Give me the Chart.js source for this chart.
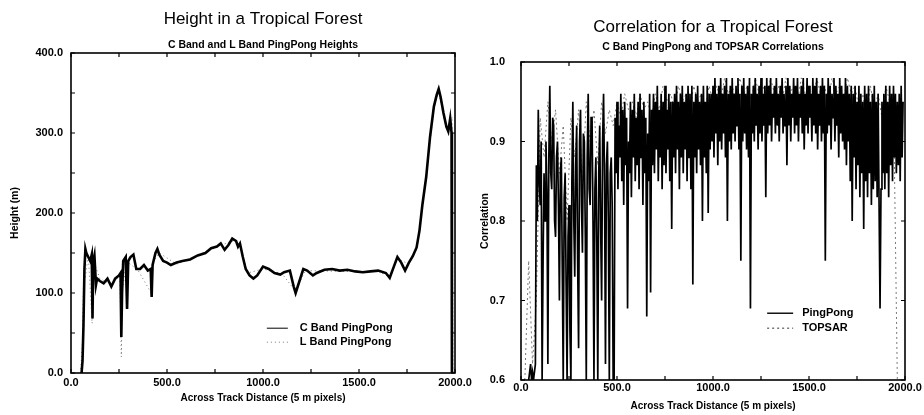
<!DOCTYPE html>
<html lang="en">
<head>
<meta charset="UTF-8">
<title>Tropical Forest Height and Correlation</title>
<script src="https://cdn.jsdelivr.net/npm/chart.js"></script>
<style>
  body { margin: 0; background: #fff; width: 924px; height: 415px; position: relative; overflow: hidden; }
  #left { position: absolute; left: 0; top: 0; width: 480px; height: 415px; }
  #right { position: absolute; left: 462px; top: 0; width: 462px; height: 415px; }
</style>
</head>
<body>
<canvas id="left" width="480" height="415"></canvas>
<canvas id="right" width="462" height="415"></canvas>
<script>
// ---- Height chart (across track distance, height in m)
const heightX = [55, 60, 65, 70, 75, 80, 90, 100, 108, 112, 116, 122, 130, 136, 150, 170, 190, 210, 230, 250, 258, 262, 266, 272, 285, 292, 298, 310, 325, 340, 360, 380, 400, 415, 420, 425, 440, 450, 460, 480, 500, 520, 550, 580, 620, 660, 700, 730, 760, 780, 800, 820, 840, 860, 870, 880, 895, 910, 930, 950, 970, 1000, 1030, 1060, 1090, 1110, 1140, 1160, 1170, 1190, 1210, 1230, 1260, 1280, 1320, 1360, 1400, 1440, 1480, 1520, 1560, 1600, 1640, 1660, 1680, 1700, 1720, 1740, 1760, 1780, 1800, 1815, 1830, 1850, 1870, 1890, 1905, 1915, 1925, 1940, 1955, 1965, 1975, 1982, 1984];
const cBandHeight = [0, 15, 60, 130, 155, 150, 145, 140, 148, 68, 140, 147, 110, 118, 115, 112, 118, 108, 118, 122, 125, 45, 100, 140, 145, 80, 140, 145, 148, 130, 130, 135, 128, 130, 95, 135, 150, 155, 148, 140, 138, 135, 138, 140, 142, 147, 150, 156, 158, 162, 154, 160, 168, 165, 158, 162, 145, 130, 122, 118, 122, 133, 130, 125, 123, 126, 128, 108, 100, 115, 130, 128, 122, 125, 129, 130, 128, 129, 127, 126, 127, 128, 125, 119, 132, 145, 138, 128, 138, 146, 157, 178, 210, 245, 295, 333, 348, 355, 345, 325, 308, 302, 318, 300, 0];
const lBandX = [50, 60, 65, 75, 90, 110, 118, 150, 200, 255, 262, 268, 290, 350, 418, 430, 460, 550, 650, 750, 840, 880, 920, 1000, 1100, 1170, 1220, 1400, 1600, 1660, 1700, 1760, 1800, 1830, 1860, 1890, 1915, 1950, 1970, 1985, 1990];
const lBandHeight = [0, 40, 110, 120, 148, 62, 140, 118, 112, 120, 20, 105, 140, 128, 100, 140, 150, 136, 146, 157, 165, 160, 125, 130, 124, 102, 128, 127, 127, 120, 143, 136, 155, 205, 270, 330, 352, 310, 305, 320, 0];

// ---- Correlation chart (one value every *Step pixels from *Start)
const pingPongStart = 40, pingPongStep = 5;
const pingPongCorr = [
  0.60, 0.61, 0.62, 0.60, 0.61, 0.60, 0.61, 0.62, 0.87, 0.80,
  0.94, 0.85, 0.82, 0.90, 0.60, 0.75, 0.86, 0.80, 0.90, 0.84,
  0.62, 0.88, 0.97, 0.86, 0.84, 0.93, 0.92, 0.80, 0.78, 0.88,
  0.90, 0.82, 0.70, 0.86, 0.88, 0.74, 0.60, 0.83, 0.86, 0.72,
  0.60, 0.78, 0.82, 0.66, 0.60, 0.85, 0.95, 0.80, 0.73, 0.87,
  0.92, 0.75, 0.64, 0.90, 0.94, 0.82, 0.76, 0.91, 0.90, 0.78,
  0.60, 0.88, 0.96, 0.84, 0.82, 0.93, 0.93, 0.80, 0.60, 0.84,
  0.88, 0.77, 0.60, 0.86, 0.92, 0.79, 0.70, 0.90, 0.96, 0.85,
  0.62, 0.87, 0.90, 0.80, 0.60, 0.86, 0.88, 0.82, 0.60, 0.60,
  0.93, 0.86, 0.95, 0.84, 0.92, 0.88, 0.96, 0.85, 0.94, 0.82, 0.95, 0.87, 0.93, 0.69, 0.90, 0.86, 0.95, 0.83, 0.94, 0.88,
  0.96, 0.85, 0.93, 0.87, 0.95, 0.84, 0.96, 0.88, 0.94, 0.82, 0.95, 0.86, 0.93, 0.68, 0.91, 0.85, 0.96, 0.71, 0.94, 0.87,
  0.96, 0.86, 0.95, 0.89, 0.97, 0.85, 0.94, 0.88, 0.96, 0.84, 0.95, 0.87, 0.97, 0.86, 0.94, 0.89, 0.96, 0.85, 0.95, 0.79,
  0.95, 0.88, 0.96, 0.86, 0.97, 0.89, 0.95, 0.84, 0.96, 0.88, 0.97, 0.86, 0.95, 0.89, 0.96, 0.85, 0.97, 0.88, 0.96, 0.84,
  0.97, 0.72, 0.95, 0.88, 0.96, 0.86, 0.97, 0.89, 0.95, 0.87, 0.96, 0.80, 0.97, 0.88, 0.95, 0.86, 0.97, 0.81, 0.96, 0.89,
  0.96, 0.90, 0.97, 0.88, 0.98, 0.91, 0.96, 0.87, 0.97, 0.90, 0.98, 0.89, 0.96, 0.91, 0.97, 0.88, 0.98, 0.80, 0.96, 0.90,
  0.97, 0.89, 0.98, 0.91, 0.96, 0.90, 0.97, 0.92, 0.98, 0.89, 0.96, 0.75, 0.97, 0.90, 0.98, 0.91, 0.96, 0.89, 0.97, 0.88,
  0.98, 0.69, 0.96, 0.91, 0.97, 0.90, 0.98, 0.92, 0.96, 0.89, 0.97, 0.91, 0.98, 0.90, 0.96, 0.92, 0.97, 0.83, 0.98, 0.91,
  0.97, 0.92, 0.98, 0.90, 0.96, 0.93, 0.97, 0.91, 0.98, 0.92, 0.96, 0.90, 0.97, 0.93, 0.98, 0.91, 0.96, 0.92, 0.97, 0.87,
  0.98, 0.92, 0.97, 0.90, 0.96, 0.93, 0.98, 0.91, 0.97, 0.92, 0.98, 0.90, 0.96, 0.93, 0.97, 0.91, 0.98, 0.89, 0.96, 0.92,
  0.98, 0.91, 0.97, 0.93, 0.96, 0.90, 0.98, 0.92, 0.97, 0.91, 0.98, 0.89, 0.96, 0.92, 0.97, 0.90, 0.98, 0.91, 0.97, 0.75,
  0.96, 0.91, 0.98, 0.92, 0.97, 0.89, 0.96, 0.93, 0.98, 0.90, 0.97, 0.92, 0.96, 0.88, 0.98, 0.91, 0.97, 0.90, 0.96, 0.89,
  0.98, 0.87, 0.97, 0.90, 0.96, 0.85, 0.97, 0.80, 0.96, 0.88, 0.97, 0.84, 0.95, 0.87, 0.97, 0.83, 0.96, 0.86, 0.95, 0.79,
  0.97, 0.85, 0.96, 0.83, 0.97, 0.86, 0.95, 0.82, 0.96, 0.84, 0.97, 0.85, 0.95, 0.83, 0.96, 0.82, 0.69, 0.84, 0.95, 0.86,
  0.96, 0.84, 0.97, 0.86, 0.95, 0.83, 0.97, 0.87, 0.96, 0.85, 0.97, 0.88, 0.96, 0.86, 0.95, 0.87, 0.96, 0.85, 0.97, 0.88,
  0.95
];
const topsarStart = 20, topsarStep = 20;
const topsarCorr = [
  0.60, 0.75, 0.62, 0.70, 0.93, 0.88, 0.95, 0.90, 0.94, 0.86,
  0.92, 0.80, 0.93, 0.88, 0.94, 0.85, 0.95, 0.90, 0.94, 0.87,
  0.95, 0.91, 0.94, 0.92, 0.95, 0.93, 0.96, 0.94, 0.95, 0.93,
  0.96, 0.94, 0.95, 0.93, 0.96, 0.94, 0.97, 0.95, 0.96, 0.94,
  0.97, 0.95, 0.96, 0.94, 0.97, 0.95, 0.96, 0.94, 0.97, 0.95,
  0.97, 0.95, 0.98, 0.96, 0.97, 0.95, 0.98, 0.96, 0.97, 0.95,
  0.98, 0.96, 0.97, 0.95, 0.98, 0.96, 0.97, 0.95, 0.98, 0.96,
  0.97, 0.95, 0.98, 0.96, 0.97, 0.95, 0.98, 0.96, 0.97, 0.95,
  0.98, 0.96, 0.97, 0.95, 0.98, 0.96, 0.97, 0.94, 0.96, 0.93,
  0.97, 0.94, 0.96, 0.93, 0.97, 0.95, 0.96, 0.60, 0.60
];

const FONT = '"Liberation Sans", Arial, sans-serif';

function pairs(xs, ys) { return ys.map((v, i) => ({ x: xs[i], y: v })); }
function sampled(start, step, ys) { return ys.map((v, i) => ({ x: start + i * step, y: v })); }

// frame with inward tick marks on all four sides
const frameTicks = {
  id: 'frameTicks',
  afterDraw(chart) {
    const { ctx, chartArea: a, scales: { x, y } } = chart;
    ctx.save();
    ctx.strokeStyle = '#000';
    ctx.lineWidth = 1.6;
    ctx.strokeRect(a.left, a.top, a.right - a.left, a.bottom - a.top);
    ctx.lineWidth = 1.2;
    ctx.beginPath();
    x.ticks.forEach(t => {
      const p = x.getPixelForValue(t.value);
      ctx.moveTo(p, a.bottom); ctx.lineTo(p, a.bottom - 4);
      ctx.moveTo(p, a.top); ctx.lineTo(p, a.top + 4);
    });
    y.ticks.forEach(t => {
      const p = y.getPixelForValue(t.value);
      ctx.moveTo(a.left, p); ctx.lineTo(a.left + 4, p);
      ctx.moveTo(a.right, p); ctx.lineTo(a.right - 4, p);
    });
    ctx.stroke();
    ctx.restore();
  }
};

// legend drawn inside the plot area
const inlineLegend = {
  id: 'inlineLegend',
  afterDraw(chart, args, o) {
    const { ctx, chartArea: a } = chart;
    const x0 = a.left + o.left * (a.right - a.left);
    let y0 = a.top + o.top * (a.bottom - a.top);
    ctx.save();
    ctx.font = 'bold 11px ' + FONT;
    ctx.textBaseline = 'middle';
    chart.data.datasets.forEach(ds => {
      ctx.strokeStyle = ds.borderColor;
      ctx.lineWidth = o.lineWidth;
      ctx.setLineDash(ds.borderDash || []);
      ctx.beginPath();
      ctx.moveTo(x0, y0);
      ctx.lineTo(x0 + o.lineLength, y0);
      ctx.stroke();
      ctx.setLineDash([]);
      ctx.fillStyle = '#000';
      ctx.fillText(ds.label, x0 + o.lineLength + o.gap, y0);
      y0 += o.rowHeight;
    });
    ctx.restore();
  }
};

function xAxis(height, titlePad, labelPad) {
  return {
    type: 'linear', min: 0, max: 2000,
    afterFit: s => { s.height = height; },
    grid: { display: false, drawTicks: false },
    border: { display: false },
    ticks: {
      stepSize: 250, autoSkip: false, maxRotation: 0, padding: labelPad, color: '#000',
      font: { family: FONT, size: 11, weight: 'bold' },
      callback: v => (v % 500 === 0 ? v.toFixed(1) : '')
    },
    title: {
      display: true, text: 'Across Track Distance (5 m pixels)', color: '#000',
      font: { family: FONT, size: 10, weight: 'bold' }, padding: { top: 2, bottom: titlePad }
    }
  };
}

new Chart(document.getElementById('left'), {
  type: 'line',
  data: {
    datasets: [
      { label: 'C Band PingPong', data: pairs(heightX, cBandHeight), borderColor: '#000', borderWidth: 2.6, pointRadius: 0, tension: 0 },
      { label: 'L Band PingPong', data: pairs(lBandX, lBandHeight), borderColor: '#777', borderWidth: 1, borderDash: [1, 3], pointRadius: 0, tension: 0 }
    ]
  },
  options: {
    responsive: false, animation: false,
    layout: { padding: { left: 0, right: 25, top: 0, bottom: 0 } },
    scales: {
      x: xAxis(42, 11, 3),
      y: {
        min: 0, max: 400,
        afterFit: s => { s.width = 71; },
        grid: { display: false, drawTicks: false },
        border: { display: false },
        ticks: {
          stepSize: 50, padding: 8, color: '#000',
          font: { family: FONT, size: 11, weight: 'bold' },
          callback: v => (v % 100 === 0 ? v.toFixed(1) : '')
        },
        title: {
          display: true, text: 'Height (m)', color: '#000',
          font: { family: FONT, size: 10.5, weight: 'bold' }, padding: { top: 9, bottom: 2 }
        }
      }
    },
    plugins: {
      legend: { display: false },
      tooltip: { enabled: false },
      title: {
        display: true, fullSize: false, text: 'Height in a Tropical Forest', color: '#000',
        font: { family: FONT, size: 17, weight: 'normal' }, padding: { top: 9, bottom: 9 }
      },
      subtitle: {
        display: true, fullSize: false, text: 'C Band and L Band PingPong Heights', color: '#000',
        font: { family: FONT, size: 10.5, weight: 'bold' }, padding: { top: 0, bottom: 2 }
      },
      inlineLegend: { left: 0.51, top: 0.86, lineLength: 21, gap: 12, rowHeight: 14, lineWidth: 1 }
    }
  },
  plugins: [frameTicks, inlineLegend]
});

new Chart(document.getElementById('right'), {
  type: 'line',
  data: {
    datasets: [
      { label: 'PingPong', data: sampled(pingPongStart, pingPongStep, pingPongCorr), borderColor: '#000', borderWidth: 1.7, pointRadius: 0, tension: 0 },
      { label: 'TOPSAR', data: sampled(topsarStart, topsarStep, topsarCorr), borderColor: '#777', borderWidth: 1, borderDash: [2, 3], pointRadius: 0, tension: 0 }
    ]
  },
  options: {
    responsive: false, animation: false,
    layout: { padding: { left: 0, right: 19, top: 0, bottom: 0 } },
    scales: {
      x: xAxis(35, 3, 1),
      y: {
        min: 0.6, max: 1.0,
        afterFit: s => { s.width = 59; },
        grid: { display: false, drawTicks: false },
        border: { display: false },
        ticks: {
          stepSize: 0.1, padding: 16, color: '#000',
          font: { family: FONT, size: 11, weight: 'bold' },
          callback: v => v.toFixed(1)
        },
        title: {
          display: true, text: 'Correlation', color: '#000',
          font: { family: FONT, size: 10.5, weight: 'bold' }, padding: { top: 17, bottom: 2 }
        }
      }
    },
    plugins: {
      legend: { display: false },
      tooltip: { enabled: false },
      title: {
        display: true, fullSize: false, text: 'Correlation for a Tropical Forest', color: '#000',
        font: { family: FONT, size: 17, weight: 'normal' }, padding: { top: 17, bottom: 3.5 }
      },
      subtitle: {
        display: true, fullSize: false, text: 'C Band PingPong and TOPSAR Correlations', color: '#000',
        font: { family: FONT, size: 10.5, weight: 'bold' }, padding: { top: 0, bottom: 8.5 }
      },
      inlineLegend: { left: 0.641, top: 0.79, lineLength: 26, gap: 9, rowHeight: 15, lineWidth: 1.4 }
    }
  },
  plugins: [frameTicks, inlineLegend]
});
</script>
</body>
</html>
